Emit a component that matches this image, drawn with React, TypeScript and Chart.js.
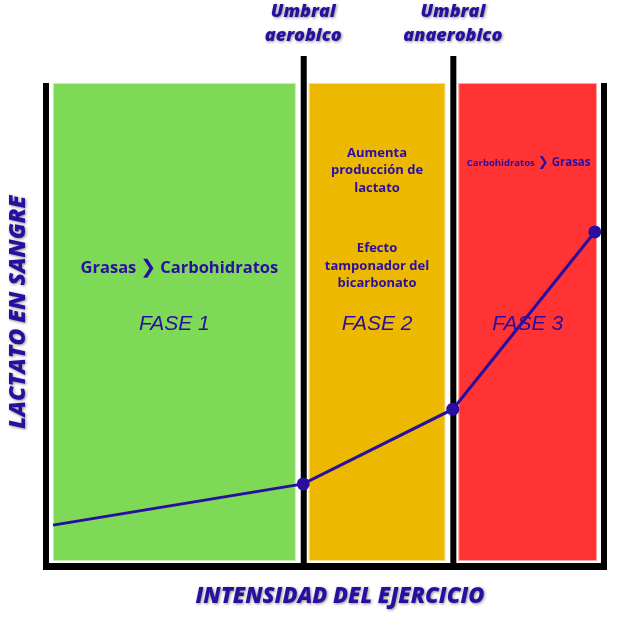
import React, { useEffect, useRef } from "react";
import { Chart, registerables } from "chart.js";

Chart.register(...registerables);

// Data
const intensity = [0, 46, 73.5, 99.6];
const lactate = [7.7, 16.3, 31.9, 68.9];
const pointSizes = [0, 6.5, 6.5, 6.5];
const phaseBounds = [0, 46, 73.5, 100];
const phaseColors = ["#7ed957", "#ecb800", "#ff3333"];
const phaseNames = ["FASE 1", "FASE 2", "FASE 3"];
const thresholdLabels = [
  ["Umbral", "aerobico"],
  ["Umbral", "anaerobico"],
];
const yTitle = "LACTATO EN SANGRE";
const xTitle = "INTENSIDAD DEL EJERCICIO";
const phase2Notes = [
  ["Aumenta", "producción de", "lactato"],
  ["Efecto", "tamponador del", "bicarbonato"],
];
const phase1Note = ["Grasas", "Carbohidratos"];
const phase3Note = ["Carbohidratos", "Grasas"];

const INK = "#2a0ea0";
const CHEV = "\u276F";

const overlay = {
  id: "overlay",
  beforeDatasetsDraw(chart: any) {
    const { ctx, chartArea: a, scales } = chart;
    const xs = scales.x;
    const ys = scales.y;
    ctx.save();
    // frame (left, bottom, right)
    ctx.fillStyle = "#000";
    const frame = [
      [a.left - 10, a.top, 6, a.bottom + 8 - a.top],
      [a.left - 10, a.bottom + 1, a.right + 10 - (a.left - 10), 7],
      [a.right + 4, a.top, 6, a.bottom + 8 - a.top],
    ];
    frame.forEach(([x, y, w, h]) => {
      ctx.fillRect(x, y, w, h);
    });
    // phase rects
    const rects: number[][] = [];
    for (let i = 0; i < phaseColors.length; i++) {
      const l = xs.getPixelForValue(phaseBounds[i]) + (i === 0 ? 0 : 5.5);
      const r = xs.getPixelForValue(phaseBounds[i + 1]) - (i === phaseColors.length - 1 ? 0 : 7.5);
      rects.push([l, r]);
      ctx.fillStyle = phaseColors[i];
      ctx.fillRect(l, a.top, r - l, a.bottom - 1 - a.top);
      ctx.strokeStyle = "rgba(255,255,255,0.55)";
      ctx.lineWidth = 1;
      ctx.strokeRect(l + 0.5, a.top + 0.5, r - l - 1, a.bottom - 2 - a.top);
    }
    // threshold lines
    ctx.fillStyle = "#000";
    for (let i = 1; i < phaseBounds.length - 1; i++) {
      const cx = xs.getPixelForValue(phaseBounds[i]) + 0.5;
      ctx.fillRect(cx - 3, 56, 6, a.bottom + 8 - 56);
    }
    // texts
    ctx.fillStyle = INK;
    ctx.textAlign = "center";
    ctx.textBaseline = "middle";
    // threshold labels with glow
    ctx.save();
    ctx.shadowColor = "rgba(0,0,0,0.45)";
    ctx.shadowBlur = 3;
    ctx.shadowOffsetX = 1;
    ctx.shadowOffsetY = 1;
    ctx.font = "italic 800 18px 'Open Sans'";
    for (let i = 1; i < phaseBounds.length - 1; i++) {
      const cx = xs.getPixelForValue(phaseBounds[i]);
      const lines = thresholdLabels[i - 1];
      ctx.fillText(lines[0], cx, 12);
      ctx.fillText(lines[1], cx, 36);
    }
    ctx.font = "italic 800 22px 'Open Sans'";
    ctx.fillText(xTitle, (a.left + a.right) / 2 + 15, a.bottom + 35);
    ctx.save();
    ctx.translate(18, 312);
    ctx.rotate(-Math.PI / 2);
    ctx.font = "italic 800 23px 'Open Sans'";
    ctx.fillText(yTitle, 0, 0);
    ctx.restore();
    ctx.restore();

    // phase names
    ctx.font = "italic 21px 'Liberation Sans'";
    rects.forEach(([l, r], i) => {
      ctx.fillText(phaseNames[i], (l + r) / 2, ys.getPixelForValue(49.7));
    });

    // notes with chevron
    const drawPair = (parts: string[], sizes: number[], chevSize: number, cx: number, cy: number, gap: number) => {
      ctx.textAlign = "left";
      const f0 = `bold ${sizes[0]}px 'Open Sans'`;
      const f1 = `bold ${sizes[1]}px 'Open Sans'`;
      const fc = `${chevSize}px 'DejaVu Sans'`;
      ctx.font = f0;
      const w0 = ctx.measureText(parts[0]).width;
      ctx.font = f1;
      const w1 = ctx.measureText(parts[1]).width;
      ctx.font = fc;
      const wc = ctx.measureText(CHEV).width;
      const total = w0 + gap + wc + gap + w1;
      let x = cx - total / 2;
      ctx.font = f0;
      ctx.fillText(parts[0], x, cy);
      x += w0 + gap;
      ctx.font = fc;
      ctx.fillText(CHEV, x, cy);
      x += wc + gap;
      ctx.font = f1;
      ctx.fillText(parts[1], x, cy);
      ctx.textAlign = "center";
    };
    drawPair(phase1Note, [16.5, 16.5], 19, (rects[0][0] + rects[0][1]) / 2 + 5, ys.getPixelForValue(61.4), 4);
    drawPair(phase3Note, [9.5, 11.5], 13, (rects[2][0] + rects[2][1]) / 2 + 1, ys.getPixelForValue(83.3), 3);

    // phase 2 notes
    ctx.font = "bold 13px 'Open Sans'";
    const c2 = (rects[1][0] + rects[1][1]) / 2;
    const starts = [85.4, 65.4];
    phase2Notes.forEach((lines, k) => {
      const y0 = ys.getPixelForValue(starts[k]);
      lines.forEach((t, j) => ctx.fillText(t, c2, y0 + j * 17.5));
    });
    ctx.restore();
  },
};

export default function App() {
  const ref = useRef<HTMLCanvasElement | null>(null);
  useEffect(() => {
    if (!ref.current) return;
    const chart = new Chart(ref.current, {
      type: "line",
      data: {
        datasets: [
          {
            data: intensity.map((x, i) => ({ x, y: lactate[i] })),
            borderColor: INK,
            backgroundColor: INK,
            borderWidth: 3,
            pointRadius: pointSizes,
            pointHoverRadius: pointSizes,
            pointBackgroundColor: INK,
            pointBorderWidth: 0,
            tension: 0,
            clip: false as any,
          },
        ],
      },
      options: {
        responsive: false,
        animation: false,
        layout: { padding: { left: 53, right: 30, top: 83, bottom: 56 } },
        plugins: { legend: { display: false }, tooltip: { enabled: false } },
        scales: {
          x: { type: "linear", min: 0, max: 100, display: false },
          y: { type: "linear", min: 0, max: 100, display: false },
        },
      },
      plugins: [overlay],
    });
    return () => chart.destroy();
  }, []);
  return (
    <div style={{ position: "absolute", left: 0, top: 0, width: 627, height: 618, background: "#fff" }}>
      <canvas ref={ref} width={627} height={618} />
    </div>
  );
}
